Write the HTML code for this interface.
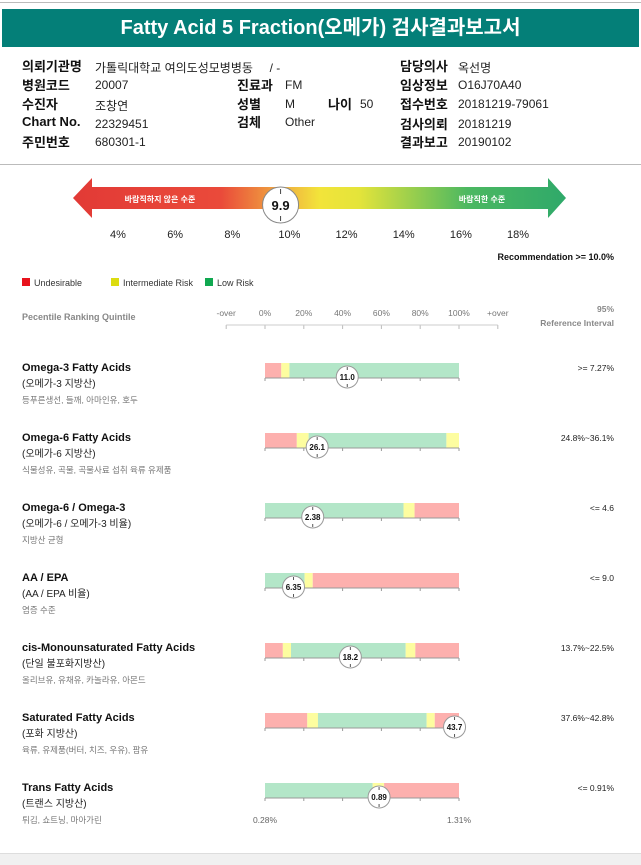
<!DOCTYPE html>
<html><head><meta charset="utf-8">
<style>
body{margin:0;width:641px;height:864px;background:#fff;font-family:"Liberation Sans","Noto Sans CJK KR",sans-serif;position:relative;overflow:hidden}
.a{position:absolute;white-space:nowrap}
.lb{font-weight:bold;font-size:13px;color:#111}
.v{font-size:12px;color:#222;margin-top:2px}
</style></head><body>
<div class="a" style="left:0;top:2px;width:641px;height:1px;background:#bbb"></div>
<div class="a" style="left:2px;top:9px;width:637px;height:38px;background:#047f78;color:#fff;font-weight:bold;font-size:20px;text-align:center;line-height:38px">Fatty Acid 5 Fraction(오메가) 검사결과보고서</div>
<div>
<div class="a lb" style="left:22px;top:56px">의뢰기관명</div><div class="a v" style="left:95px;top:57px">가톨릭대학교 여의도성모병병동 &nbsp;&nbsp;&nbsp;&nbsp;/ -</div>
<div class="a lb" style="left:400px;top:56px">담당의사</div><div class="a v" style="left:458px;top:57px">옥선명</div>
<div class="a lb" style="left:22px;top:75px">병원코드</div><div class="a v" style="left:95px;top:76px">20007</div>
<div class="a lb" style="left:237px;top:75px">진료과</div><div class="a v" style="left:285px;top:76px">FM</div>
<div class="a lb" style="left:400px;top:75px">임상정보</div><div class="a v" style="left:458px;top:76px">O16J70A40</div>
<div class="a lb" style="left:22px;top:94px">수진자</div><div class="a v" style="left:95px;top:95px">조창연</div>
<div class="a lb" style="left:237px;top:94px">성별</div><div class="a v" style="left:285px;top:95px">M</div>
<div class="a lb" style="left:328px;top:94px">나이</div><div class="a v" style="left:360px;top:95px">50</div>
<div class="a lb" style="left:400px;top:94px">접수번호</div><div class="a v" style="left:458px;top:95px">20181219-79061</div>
<div class="a lb" style="left:22px;top:114px">Chart No.</div><div class="a v" style="left:95px;top:115px">22329451</div>
<div class="a lb" style="left:237px;top:112px">검체</div><div class="a v" style="left:285px;top:113px">Other</div>
<div class="a lb" style="left:400px;top:114px">검사의뢰</div><div class="a v" style="left:458px;top:115px">20181219</div>
<div class="a lb" style="left:22px;top:132px">주민번호</div><div class="a v" style="left:95px;top:133px">680301-1</div>
<div class="a lb" style="left:400px;top:132px">결과보고</div><div class="a v" style="left:458px;top:133px">20190102</div>
</div>
<div class="a" style="left:0;top:164px;width:641px;height:1px;background:#bbb"></div>
<div class="a" style="left:0;top:853px;width:641px;height:11px;background:#f0f0f0;border-top:1px solid #ddd"></div>
<svg class="a" style="left:0;top:0" width="641" height="864" id="svg">
<defs><linearGradient id="g" x1="0" x2="1"><stop offset="0" stop-color="#e23a36"/><stop offset="0.3" stop-color="#ea4a3a"/><stop offset="0.43" stop-color="#f0b040"/><stop offset="0.5" stop-color="#f2e43a"/><stop offset="0.58" stop-color="#e4e43a"/><stop offset="0.8" stop-color="#4cb861"/><stop offset="1" stop-color="#2fa96a"/></linearGradient></defs>
</svg>
<script>
const svgNS="http://www.w3.org/2000/svg";const svg=document.getElementById('svg');
function mk(t,a,p){const e=document.createElementNS(svgNS,t);for(const k in a)e.setAttribute(k,a[k]);(p||svg).appendChild(e);return e;}
const gaugeTicks=[4,6,8,10,12,14,16,18];
const gaugeValue=9.9;
const gx=v=>118+(v-4)*(400/14);
const ar=mk('polygon',{points:'73,198 92,178 92,187 548,187 548,178 566,198 548,218 548,209 92,209 92,218',fill:'url(#g)'});


let t=mk('text',{x:160,y:202,'font-size':8,'font-weight':'bold',fill:'#fff','text-anchor':'middle'});t.textContent='바람직하지 않은 수준';


t=mk('text',{x:482,y:202,'font-size':8,'font-weight':'bold',fill:'#fff','text-anchor':'middle'});t.textContent='바람직한 수준';


gaugeTicks.forEach(v=>{const e=mk('text',{x:gx(v),y:238,'font-size':11,fill:'#222','text-anchor':'middle'});e.textContent=v+'%';

});
const gm=mk('g',{});


const cx0=gx(gaugeValue)-6;
mk('circle',{cx:cx0,cy:205,r:18,fill:'#fff',stroke:'#888','stroke-width':1},gm);
mk('line',{x1:cx0,y1:189,x2:cx0,y2:194,stroke:'#444'},gm);mk('line',{x1:cx0,y1:216,x2:cx0,y2:221,stroke:'#444'},gm);
t=mk('text',{x:cx0,y:210,'font-size':13,'font-weight':'bold','text-anchor':'middle',fill:'#111'},gm);t.textContent=gaugeValue.toFixed(1);
t=mk('text',{x:614,y:260,'font-size':9,'font-weight':'bold','text-anchor':'end',fill:'#111'});t.textContent='Recommendation  >= 10.0%';


const legendNames=['Undesirable','Intermediate Risk','Low Risk'];const legendColors=['#e8121c','#dcdc10','#10a850'];const legendX=[22,111,205];
legendNames.forEach((n,i)=>{const g=mk('g',{});


mk('rect',{x:legendX[i],y:278,width:8,height:8,fill:legendColors[i]},g);const e=mk('text',{x:legendX[i]+12,y:286,'font-size':9,fill:'#333'},g);e.textContent=n;});
const bx0=265,bx1=459;const px=p=>bx0+(bx1-bx0)*p/100;
const axisLabels=['-over','0%','20%','40%','60%','80%','100%','+over'];const axisPct=[-20,0,20,40,60,80,100,120];
t=mk('text',{x:22,y:320,'font-size':9,'font-weight':'bold',fill:'#888'});t.textContent='Pecentile Ranking Quintile';


axisLabels.forEach((l,i)=>{const e=mk('text',{x:px(axisPct[i]),y:316,'font-size':8.5,fill:'#777','text-anchor':'middle'});e.textContent=l;


mk('line',{x1:px(axisPct[i]),y1:325,x2:px(axisPct[i]),y2:329,stroke:'#bbb'});});
mk('line',{x1:px(-20),y1:325,x2:px(120),y2:325,stroke:'#ccc'});
t=mk('text',{x:614,y:312,'font-size':8.5,fill:'#888','text-anchor':'end','font-weight':'bold'});t.textContent='95%';
t=mk('text',{x:614,y:326,'font-size':8.5,fill:'#888','text-anchor':'end','font-weight':'bold'});t.textContent='Reference Interval';
const titles=['Omega-3 Fatty Acids','Omega-6 Fatty Acids','Omega-6 / Omega-3','AA / EPA','cis-Monounsaturated Fatty Acids','Saturated Fatty Acids','Trans Fatty Acids'];
const subtitles=['(오메가-3 지방산)','(오메가-6 지방산)','(오메가-6 / 오메가-3 비율)','(AA / EPA 비율)','(단일 불포화지방산)','(포화 지방산)','(트랜스 지방산)'];
const descs=['등푸른생선, 들깨, 아마인유, 호두','식물성유, 곡물, 곡물사료 섭취 육류 유제품','지방산 균형','염증 수준','올리브유, 유채유, 카놀라유, 아몬드','육류, 유제품(버터, 치즈, 우유), 팜유','튀김, 쇼트닝, 마아가린'];
const refs=['>= 7.27%','24.8%~36.1%','<= 4.6','<= 9.0','13.7%~22.5%','37.6%~42.8%','<= 0.91%'];
const values=['11.0','26.1','2.38','6.35','18.2','43.7','0.89'];
const markerPct=[42.4,26.9,24.6,14.7,44,97.7,58.8];
const segBreaks=[[8.4,12.6],[16.4,22.5,93.5],[71.4,77.1],[20.4,24.6],[9.2,13.4,72.5,77.5],[21.8,27.3,83.3,87.5],[55.5,61.4]];
const segKinds=[['r','y','g'],['r','y','g','y'],['g','y','r'],['g','y','r'],['r','y','g','y','r'],['r','y','g','y','r'],['g','y','r']];
const segCol={r:'#fdb0ae',y:'#fdfda0',g:'#b3e6c8'};
const rowY=[363,433,503,573,643,713,783];
titles.forEach((ti,i)=>{const y=rowY[i];const g=mk('g',{});


let e=mk('text',{x:22,y:y+8,'font-size':11,'font-weight':'bold',fill:'#111'},g);e.textContent=ti;
e=mk('text',{x:22,y:y+24,'font-size':10,fill:'#222'},g);e.textContent=subtitles[i];
e=mk('text',{x:22,y:y+40,'font-size':8.5,fill:'#777'},g);e.textContent=descs[i];
e=mk('text',{x:614,y:y+8,'font-size':8.5,fill:'#222','text-anchor':'end'},g);e.textContent=refs[i];
const b=[0].concat(segBreaks[i],[100]);
for(let k=0;k<b.length-1;k++){const r=mk('rect',{x:px(b[k]),y:y,width:px(b[k+1])-px(b[k]),height:15,fill:segCol[segKinds[i][k]]},g);

}
mk('line',{x1:bx0,y1:y+15,x2:bx1,y2:y+15,stroke:'#999'},g);
[0,20,40,60,80,100].forEach(p=>mk('line',{x1:px(p),y1:y+15,x2:px(p),y2:y+18,stroke:'#999'},g));
const mx=px(markerPct[i]);const m=mk('g',{},g);


mk('circle',{cx:mx,cy:y+14,r:11,fill:'#fff',stroke:'#999'},m);
mk('line',{x1:mx,y1:y+4,x2:mx,y2:y+7,stroke:'#555'},m);mk('line',{x1:mx,y1:y+21,x2:mx,y2:y+24,stroke:'#555'},m);
e=mk('text',{x:mx,y:y+17,'font-size':8,'font-weight':'bold','text-anchor':'middle',fill:'#111'},m);e.textContent=values[i];
});
t=mk('text',{x:bx0,y:823,'font-size':8.5,fill:'#666','text-anchor':'middle'});t.textContent='0.28%';
t=mk('text',{x:bx1,y:823,'font-size':8.5,fill:'#666','text-anchor':'middle'});t.textContent='1.31%';
</script>
</body></html>
